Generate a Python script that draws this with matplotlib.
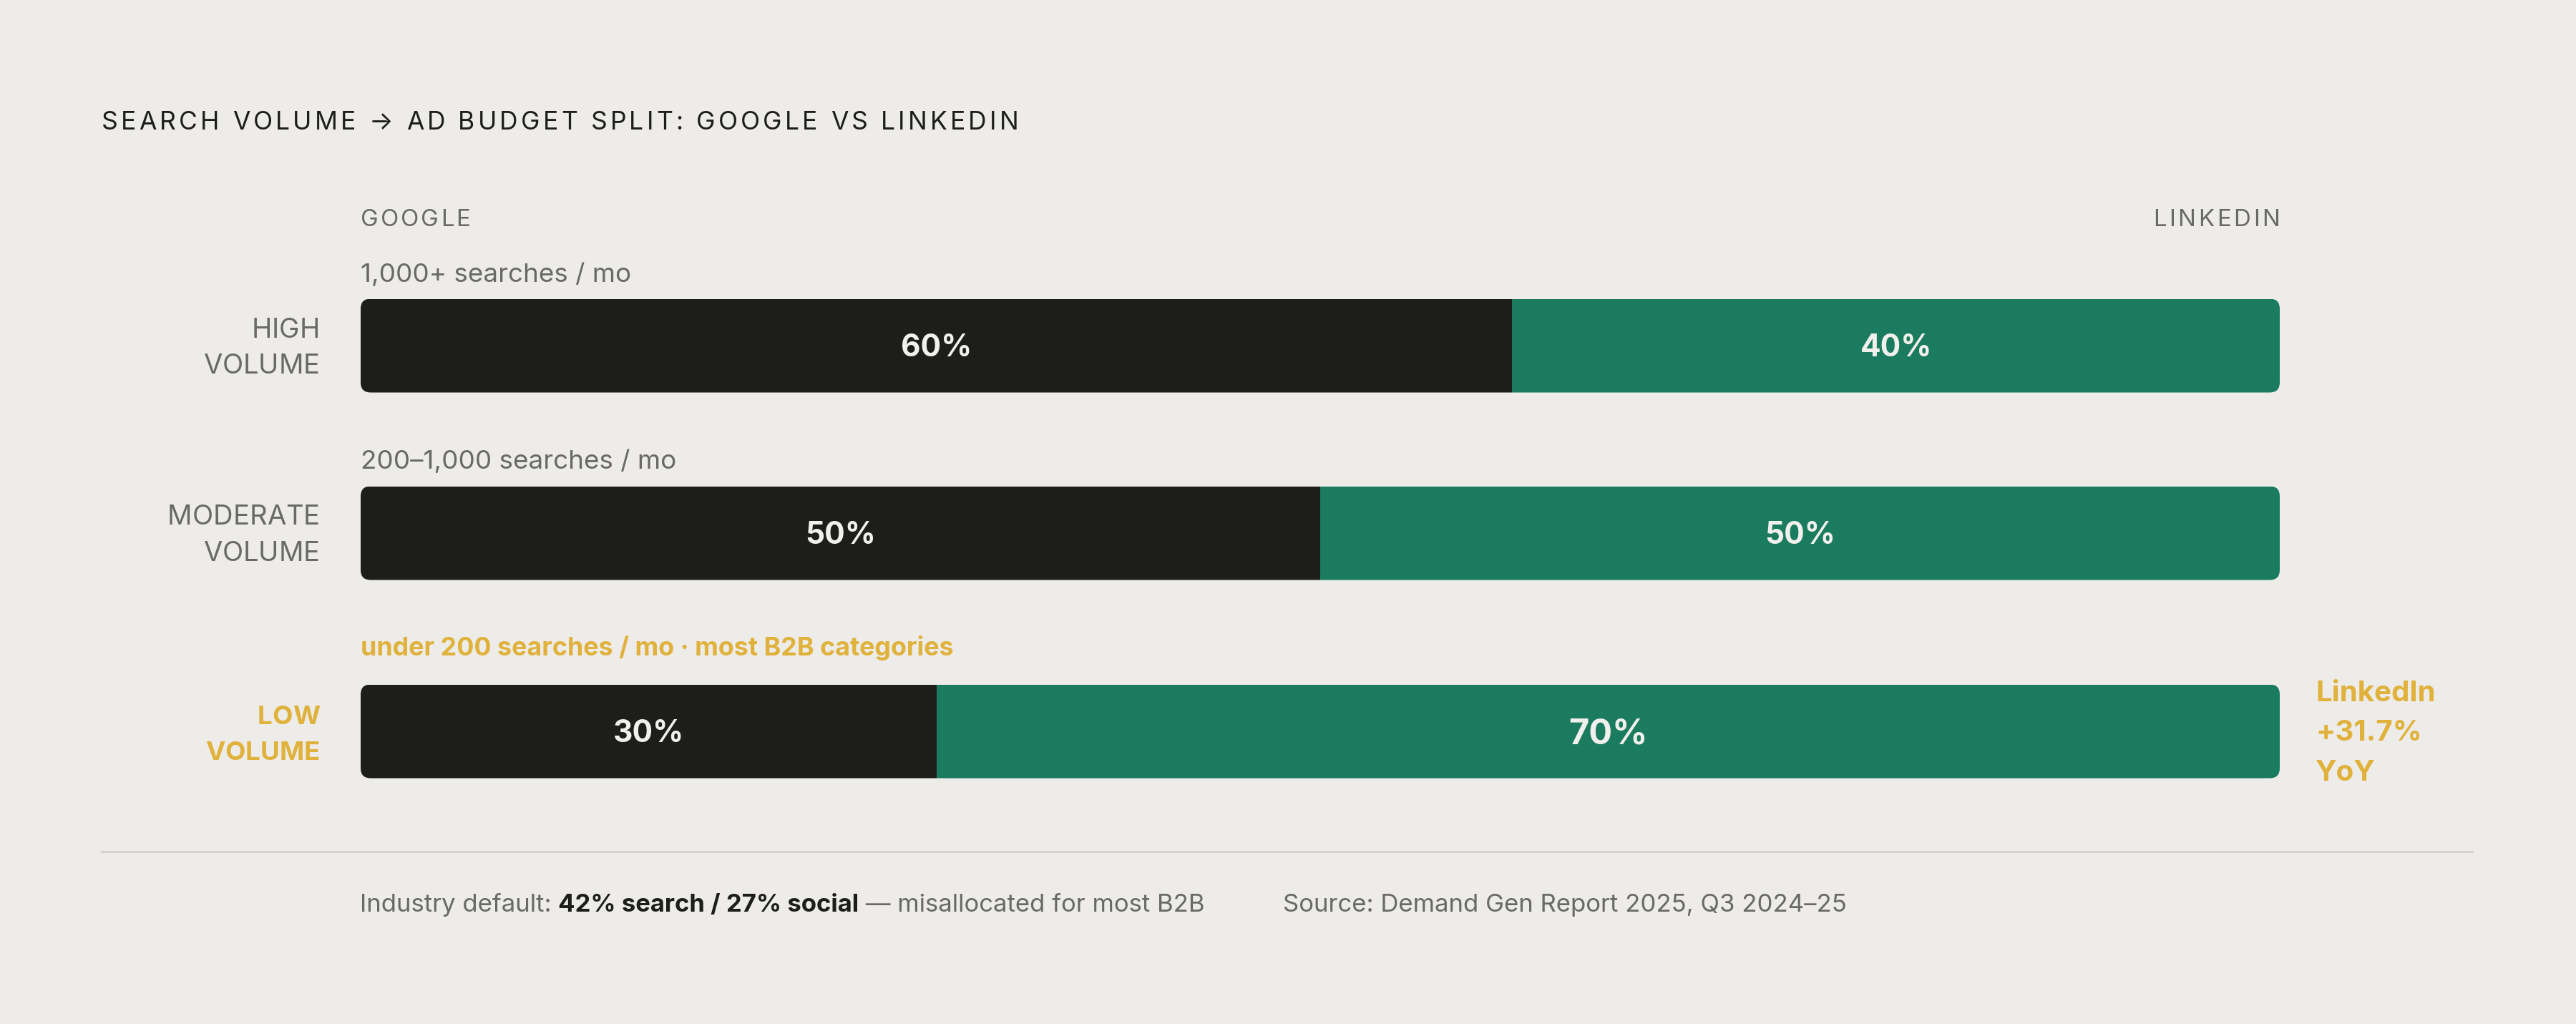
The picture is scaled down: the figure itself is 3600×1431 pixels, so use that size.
import matplotlib
matplotlib.use("Agg")
import matplotlib.pyplot as plt
from matplotlib.patches import FancyBboxPatch
from matplotlib.transforms import IdentityTransform

# ---------------- data ----------------
title = "SEARCH VOLUME → AD BUDGET SPLIT: GOOGLE VS LINKEDIN"
series_names = ["GOOGLE", "LINKEDIN"]
categories = [["HIGH", "VOLUME"], ["MODERATE", "VOLUME"], ["LOW", "VOLUME"]]
subtitles = ["1,000+ searches / mo",
             "200–1,000 searches / mo",
             "under 200 searches / mo · most B2B categories"]
google = [60, 50, 30]
linkedin = [40, 50, 70]
highlight = [False, False, True]
annotation = ["LinkedIn", "+31.7%", "YoY"]
footer_parts = [("Industry default: ", "normal"),
                ("42% search / 27% social", "bold"),
                (" — misallocated for most B2B", "normal")]
source = "Source: Demand Gen Report 2025, Q3 2024–25"

# ---------------- style ----------------
W, H, DPI = 3600, 1431, 100
BG = "#EDECE9"
DARK = "#1D1D1B"
GREEN = "#1B7B5F"
GRAY = "#696966"
GOLD = "#E0B13B"
LIGHT = "#F2F0EC"
RULE = "#D5D3D0"
FONT = "Inter"

plt.rcParams["font.family"] = [FONT, "DejaVu Sans"]

fig = plt.figure(figsize=(W / DPI, H / DPI), dpi=DPI, facecolor=BG)
renderer = fig.canvas.get_renderer()

BAR_L, BAR_R = 504, 3186
ROW_Y = [483, 745, 1022]
BAR_H = 131

ax = fig.add_axes([BAR_L / W, 0, (BAR_R - BAR_L) / W, 1])
ax.set_xlim(0, 100)
ax.set_ylim(H, 0)
ax.axis("off")
ax.set_facecolor("none")


def fx(x):
    return x / W


def fy(y):
    return 1 - y / H


def meas(s, size, weight):
    t = fig.text(0, 0, s, fontsize=size, fontweight=weight)
    w = t.get_window_extent(renderer).width
    t.remove()
    return w


def adv(s, size, weight):
    return meas("H" + s + "H", size, weight) - meas("HH", size, weight)


def spaced(x, y, s, size, weight, color, spacing, ha="left"):
    widths = [adv(c, size, weight) for c in s]
    total = sum(widths) + spacing * (len(s) - 1)
    if ha == "right":
        x = x - total
    for c, w in zip(s, widths):
        fig.text(fx(x), fy(y), c, fontsize=size, fontweight=weight,
                 color=color, ha="left", va="baseline")
        x += w + spacing


# title
spaced(142, 181, title, 25.5, "normal", DARK, 4.2)

# series header labels
spaced(BAR_L, 316, series_names[0], 23.8, "normal", GRAY, 3.0)
spaced(BAR_R, 316, series_names[1], 23.8, "normal", GRAY, 3.6, ha="right")

# bars
gbars = ax.barh(ROW_Y, google, height=BAR_H, color=DARK, linewidth=0)
lbars = ax.barh(ROW_Y, linkedin, left=google, height=BAR_H, color=GREEN,
                linewidth=0)

fig.canvas.draw()
for i, yc in enumerate(ROW_Y):
    (x0, y0) = ax.transData.transform((0, yc + BAR_H / 2))
    (x1, y1) = ax.transData.transform((100, yc - BAR_H / 2))
    clip = FancyBboxPatch((x0, y0), x1 - x0, y1 - y0,
                          boxstyle="round,pad=0,rounding_size=14",
                          transform=IdentityTransform(), facecolor="none",
                          edgecolor="none")
    gbars[i].set_clip_path(clip)
    lbars[i].set_clip_path(clip)

    big = 35 if highlight[i] else 30.5
    cap_big = big * DPI / 72 * 0.727
    cap = 30.5 * DPI / 72 * 0.727
    ax.text(google[i] / 2, yc + cap / 2, f"{google[i]}%", ha="center",
            va="baseline", fontsize=30.5, fontweight="bold", color=LIGHT)
    ax.text(google[i] + linkedin[i] / 2, yc + cap_big / 2, f"{linkedin[i]}%",
            ha="center", va="baseline", fontsize=big, fontweight="bold",
            color=LIGHT)

# subtitles
sub_base = [394, 655, 916]
for i, s in enumerate(subtitles):
    if highlight[i]:
        fig.text(fx(BAR_L), fy(sub_base[i]), s, fontsize=25.8,
                 fontweight="bold", color=GOLD, va="baseline")
    else:
        fig.text(fx(BAR_L), fy(sub_base[i]), s, fontsize=26.5, color=GRAY,
                 va="baseline")

# row labels
label_base = [(472, 522), (733, 784), (1012, 1062)]
for i, lines in enumerate(categories):
    col = GOLD if highlight[i] else GRAY
    wt = "bold" if highlight[i] else "normal"
    size = 26.5 if highlight[i] else 27.5
    for line, yb in zip(lines, label_base[i]):
        spaced(447, yb, line, size, wt, col, 0.0, ha="right")

# annotation
for line, yb in zip(annotation, [980, 1035, 1091]):
    fig.text(fx(3236), fy(yb), line, fontsize=29, fontweight="bold",
             color=GOLD, va="baseline")

# separator
fig.add_artist(plt.Line2D([fx(142), fx(3455)], [fy(1190), fy(1190)],
                          color=RULE, linewidth=2.2))

# footer
x = 503
for part, wt in footer_parts:
    col = DARK if wt == "bold" else GRAY
    fig.text(fx(x), fy(1274), part, fontsize=25, fontweight=wt, color=col,
             va="baseline")
    x += adv(part, 25, wt)
fig.text(fx(1793), fy(1274), source, fontsize=25, color=GRAY, va="baseline")

fig.savefig("out.png", dpi=DPI, facecolor=BG)
